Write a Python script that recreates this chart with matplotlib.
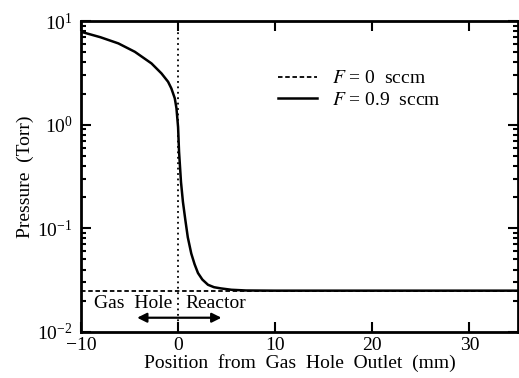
import numpy as np
import matplotlib.pyplot as plt
from matplotlib.ticker import LogLocator, FixedLocator

plt.rcParams['font.family'] = ['Liberation Serif', 'DejaVu Serif']
plt.rcParams['mathtext.fontset'] = 'stix'

# F = 0.9 sccm profile
pos_flow = [-10, -8, -6.15, -4.45, -2.74, -1.71, -1.03, -0.69, -0.34, -0.17, 0.0,
            0.1, 0.3, 0.5, 0.75, 1.0, 1.36, 1.7, 2.05, 2.5, 3.08, 3.7, 4.4, 5.5, 7, 10, 20, 35]
p_flow = [7.9, 7.0, 6.1, 5.06, 3.91, 3.13, 2.6, 2.24, 1.8, 1.45, 0.95,
          0.55, 0.28, 0.18, 0.12, 0.082, 0.057, 0.045, 0.037, 0.032, 0.0285, 0.027, 0.0263, 0.0255, 0.0251, 0.025, 0.025, 0.025]

# F = 0 sccm: uniform pressure
pos_noflow = [-10, 35]
p_noflow = [0.025, 0.025]

x_ticks = [-10, 0, 10, 20, 30]

fig = plt.figure(figsize=(5.19, 3.78), dpi=100)
ax = fig.add_axes([0.156, 0.122, 0.842, 0.822])

ax.plot(pos_noflow, p_noflow, color='black', lw=1.3, ls=(0, (2.5, 1.5)), label='$F$ = 0  sccm')
ax.plot(pos_flow, p_flow, color='black', lw=1.8, label='$F$ = 0.9  sccm')
ax.axvline(0, color='black', lw=1.3, ls=(0, (1, 2)))

ax.set_yscale('log')
ax.set_xlim(-10, 35)
ax.set_ylim(1e-2, 1e1)
ax.xaxis.set_major_locator(FixedLocator(x_ticks))
ax.yaxis.set_major_locator(LogLocator(base=10, numticks=10))
ax.yaxis.set_minor_locator(LogLocator(base=10, subs=np.arange(2, 10), numticks=10))
ax.xaxis.set_minor_locator(FixedLocator([]))

ax.tick_params(which='both', direction='in', top=True, right=True, labelsize=14, width=1.5)
ax.tick_params(which='major', length=7)
ax.tick_params(axis='y', which='major', pad=6)
ax.tick_params(axis='x', which='major', pad=4)
ax.tick_params(which='minor', length=3.5)
for s in ax.spines.values():
    s.set_linewidth(2)

ax.set_xlabel('Position  from  Gas  Hole  Outlet  (mm)', fontsize=14, labelpad=0)
ax.set_ylabel('Pressure  (Torr)', fontsize=14, labelpad=2)

# region annotation
ax.annotate('', xy=(-4.5, 0.0137), xytext=(4.75, 0.0137),
            arrowprops=dict(arrowstyle='<|-|>', color='black', lw=1.6, mutation_scale=14))
ax.text(-4.6, 0.0186, 'Gas  Hole', ha='center', va='center', fontsize=14)
ax.text(3.9, 0.0186, 'Reactor', ha='center', va='center', fontsize=14)

ax.legend(loc='upper left', bbox_to_anchor=(0.41, 0.9), frameon=False, fontsize=14,
          handlelength=2.0, handletextpad=0.8, labelspacing=0.2)

fig.savefig('out.png', dpi=100)
